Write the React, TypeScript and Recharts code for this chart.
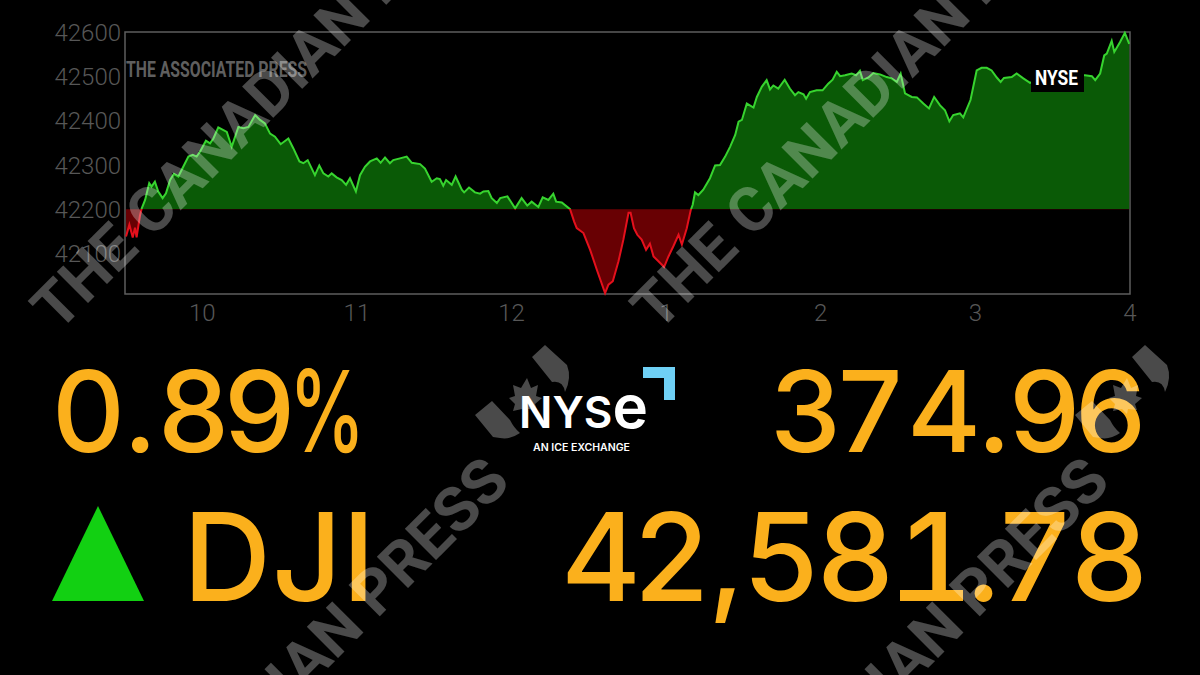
import React from "react";
import { ComposedChart, Area, XAxis, YAxis, ReferenceArea } from "recharts";

// minutes after the 9:30 open
const minutes = [0.4,1.7,3,3.9,4.5,5.8,6.5,7.8,9.4,10.3,11.6,12.9,14.6,15.9,17.5,19,20.7,22.6,24.6,26.3,27.8,29.1,31.4,33,34.3,36.2,38.2,39.5,41.4,44,45.9,47.9,50.5,52.4,54.3,56.3,58.2,60.4,63.4,65.3,67.7,69.2,70.9,73.7,75.4,77,78.9,80.2,82.1,84.1,85.8,87.3,89.6,91.2,93.1,95.1,97.7,99.2,100.9,102.8,104.1,106.7,109.3,111.3,114.5,116.4,119,121,122.2,123.5,124.6,126.8,128.3,130.7,131.6,133.5,135.8,137.8,139.1,141,142.3,144.3,145.6,148.4,151.4,153.9,156.1,157.8,160.4,162.1,164.3,166.2,167.3,169.5,172.7,174.3,175.3,177.9,180.5,183.1,186.3,187.6,189.3,191.5,193.4,195.4,196.2,197.5,198.8,200.5,202.2,203.7,205.1,207,209.2,210.9,212.8,214.8,216.1,218,219.5,220.3,221.2,222.5,224.4,227,229,230.9,232.9,234.8,236.8,238.1,239.4,241.3,243.9,245.2,247.1,249,250.3,251.6,253.5,256,258,260,261.3,263.3,264.3,265.8,268.4,270.7,272.9,274.6,276.2,277.5,279.4,282,283.7,285.2,286.3,288.5,290.4,293,295.6,297.5,299.5,301,302.7,305.3,307.3,309.8,312,314,316.3,318.2,319.9,321.4,322.7,324,325.3,328.1,330.5,332.4,334.4,336.3,338.3,339.8,341.1,344.1,346,348.6,351.2,353.8,357.7,364.2,369.4,372.5,375.2,376.5,378.4,380,381,382.9,383.9,386.1,388,389.7];
const prices = [42138,42165,42136,42158,42136,42185,42202,42221,42259,42251,42262,42240,42225,42236,42266,42280,42274,42296,42319,42323,42319,42330,42355,42349,42360,42385,42379,42375,42341,42386,42383,42386,42413,42402,42394,42371,42364,42347,42360,42338,42308,42304,42311,42277,42299,42281,42274,42281,42272,42266,42255,42270,42240,42277,42296,42308,42315,42305,42317,42304,42311,42315,42319,42305,42302,42292,42262,42270,42268,42253,42266,42255,42274,42244,42238,42249,42238,42235,42240,42241,42225,42214,42225,42229,42202,42225,42208,42217,42205,42227,42221,42235,42217,42215,42200,42172,42157,42146,42108,42063,42010,42029,42037,42082,42131,42192,42192,42157,42142,42131,42108,42122,42093,42082,42069,42093,42116,42142,42120,42157,42197,42210,42238,42232,42244,42270,42299,42300,42319,42341,42368,42398,42402,42439,42430,42454,42477,42492,42471,42480,42473,42493,42473,42458,42465,42460,42450,42465,42469,42469,42484,42493,42511,42501,42503,42507,42503,42513,42492,42498,42508,42505,42499,42496,42488,42507,42462,42454,42453,42439,42428,42454,42435,42424,42399,42413,42415,42417,42408,42447,42514,42520,42520,42514,42498,42488,42497,42499,42507,42496,42486,42492,42495,42499,42503,42503,42501,42492,42507,42548,42552,42581,42556,42578,42599,42574];

const yTicks = [42100, 42200, 42300, 42400, 42500, 42600];
const xTicks = [30, 90, 150, 210, 270, 330, 390];
const xLabels = ["10", "11", "12", "1", "2", "3", "4"];
const previousClose = 42200;
const yMin = 42008;
const yMax = 42601;
const headlinePercent = "0.89";
const headlineChange = "374.96";
const headlineIndex = "DJI";
const headlineLevel = "42,581.78";

const rows = minutes.map((m, i) => ({ m, price: prices[i] }));

const PLOT_TOP = 32;
const PLOT_BOTTOM = 294;
const split = (yMax - previousClose) / (yMax - yMin);
const ORANGE = "#fbb01c";
const WM = "rgba(255,255,255,0.29)";

function Watermark({ dx }: { dx: number }) {
  return (
    <g transform={`translate(${dx},0)`} fill={WM} fontFamily="Roboto, sans-serif" fontWeight={700}>
      <text transform="translate(58,333) rotate(-45)" fontSize={62}>THE CANADIAN PRESS</text>
      <text transform="translate(512,484) rotate(-45)" fontSize={62} textAnchor="end">THE CANADIAN PRESS</text>
      <path d="M545 345 L567 365 Q572 378 565 392 Q563 380 552 382 L532 357 Z" />
      <path d="M492 401 L510 420 Q514 428 520 433 Q510 440 500 438 L493 437 L475 415 Z" />
      <path d="M527 378 L531 388 L538 385 L536 396 L542 398 L535 404 L537 410 L528 409 L527 414 L522 409 L513 411 L515 404 L509 398 L515 396 L513 385 L521 388 Z" />
    </g>
  );
}

export default function App() {
  return (
    <div style={{ position: "absolute", left: 0, top: 0, width: 1200, height: 675, background: "#000", overflow: "hidden" }}>
      <ComposedChart width={1200} height={675} data={rows} margin={{ top: PLOT_TOP, right: 70, left: 0, bottom: 0 }} style={{ position: "absolute", left: 0, top: 0 }}>
        <defs>
          <linearGradient id="splitFill" gradientUnits="userSpaceOnUse" x1="0" y1={PLOT_TOP} x2="0" y2={PLOT_BOTTOM}>
            <stop offset={split} stopColor="#0a5a06" />
            <stop offset={split} stopColor="#680003" />
          </linearGradient>
          <linearGradient id="splitStroke" gradientUnits="userSpaceOnUse" x1="0" y1={PLOT_TOP} x2="0" y2={PLOT_BOTTOM}>
            <stop offset={split} stopColor="#37d42f" />
            <stop offset={split} stopColor="#e5101c" />
          </linearGradient>
        </defs>
        <XAxis
          dataKey="m"
          type="number"
          domain={[0, 390]}
          ticks={xTicks}
          tickFormatter={(v: number) => xLabels[xTicks.indexOf(v)]}
          height={381}
          axisLine={false}
          tickLine={false}
          tickMargin={4}
          interval={0}
          tick={{ fill: "#575757", fontSize: 24, fontFamily: "Roboto, sans-serif", fontWeight: 300 }}
        />
        <YAxis
          type="number"
          domain={[yMin, yMax]}
          ticks={yTicks}
          width={125}
          axisLine={false}
          tickLine={false}
          tickMargin={-2}
          interval={0}
          tick={{ fill: "#575757", fontSize: 24, fontFamily: "Roboto, sans-serif", fontWeight: 300 }}
        />
        <ReferenceArea x1={0} x2={390} y1={yMin} y2={yMax} fill="none" stroke="#5e5e5e" strokeWidth={1.5} />
        <Area
          dataKey="price"
          type="linear"
          baseValue={previousClose}
          stroke="url(#splitStroke)"
          strokeWidth={2}
          fill="url(#splitFill)"
          fillOpacity={1}
          dot={false}
          activeDot={false}
          isAnimationActive={false}
        />
      </ComposedChart>
      <svg width={1200} height={675} style={{ position: "absolute", left: 0, top: 0 }}>
        <text x={126} y={77} fontFamily="Roboto, sans-serif" fontWeight={700} fontSize={22} fill="#5f5f5f" textLength={181} lengthAdjust="spacingAndGlyphs">THE ASSOCIATED PRESS</text>
        <rect x={1031} y={66} width={53} height={26} fill="#000" />
        <text x={1035} y={85} fontFamily="Roboto, sans-serif" fontWeight={700} fontSize={20} fill="#fff" textLength={43} lengthAdjust="spacingAndGlyphs">NYSE</text>

        <g fontFamily="Inter, sans-serif" fill={ORANGE} fontWeight={500}>
          <g fontSize={113}>
            <text x="52 123 158 224" y={452}>{headlinePercent}</text>
            <text transform="translate(289,452) scale(0.68,1)">%</text>
            <text x="770 838 907 977 1009 1075" y={452}>{headlineChange}</text>
          </g>
          <g fontSize={122}>
            <text x="183 272 342" y={601}>{headlineIndex}</text>
            <text x="561 634 708 743 817 905 965 1000 1071" y={601}>{headlineLevel}</text>
          </g>
          <rect x={900} y={590} width={63} height={11} />
        </g>
        <polygon points="52,601 98,506 144,601" fill="#12d012" />

        <text x={519} y={428} fontFamily="Inter, sans-serif" fontWeight={600} fontSize={44} fill="#fff">NYS<tspan fontSize={60}>e</tspan></text>
        <text x={533} y={451} fontFamily="Inter, sans-serif" fontWeight={600} fontSize={10} fill="#fff" textLength={97} lengthAdjust="spacingAndGlyphs">AN ICE EXCHANGE</text>
        <polygon points="643,367 675,367 675,400 664,400 664,378 643,378" fill="#6fd0f5" />

        <Watermark dx={0} />
        <Watermark dx={600} />
      </svg>
    </div>
  );
}
